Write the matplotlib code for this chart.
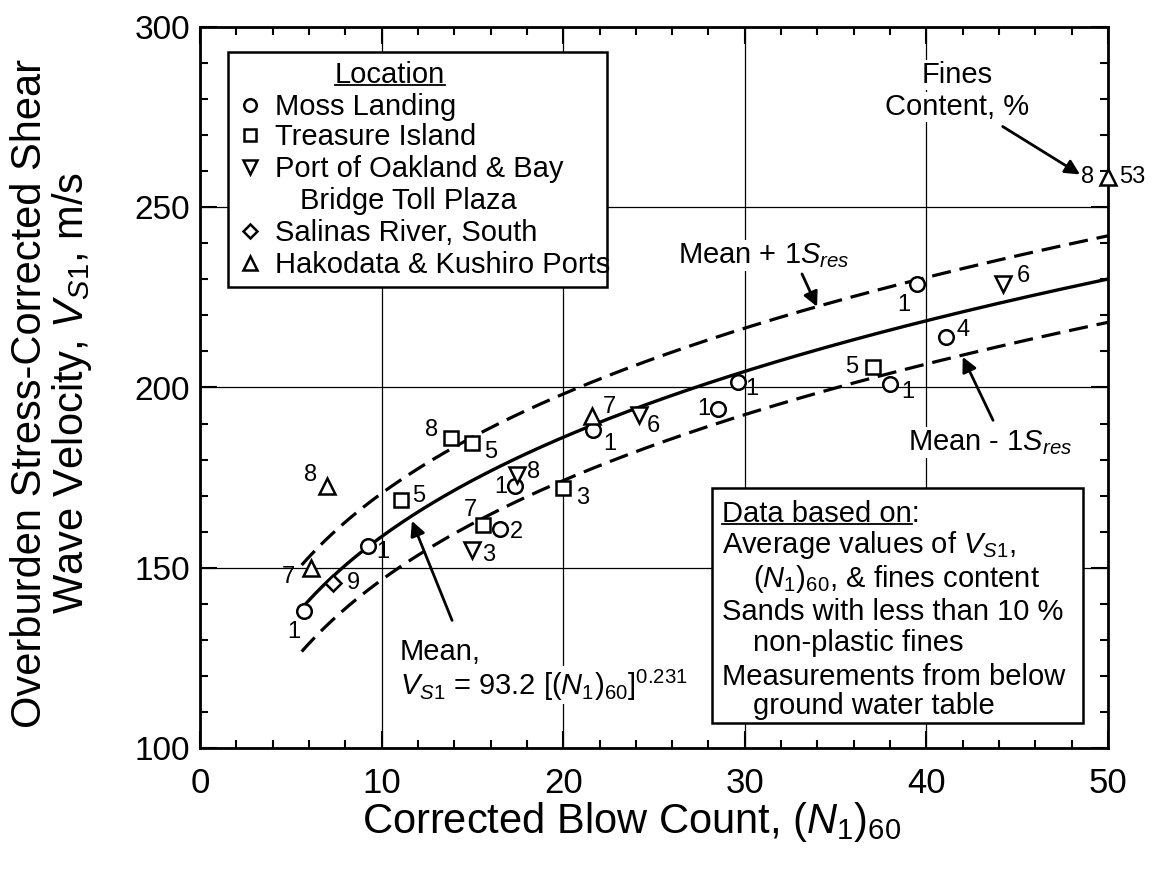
import matplotlib
matplotlib.use('Agg')
import matplotlib.pyplot as plt
import numpy as np
from matplotlib.patches import Rectangle
from matplotlib.lines import Line2D
from matplotlib.transforms import IdentityTransform

plt.rcParams['font.family'] = ['Liberation Sans', 'DejaVu Sans']
plt.rcParams['mathtext.fontset'] = 'custom'
plt.rcParams['mathtext.rm'] = 'Liberation Sans'
plt.rcParams['mathtext.it'] = 'Liberation Sans:italic'
plt.rcParams['mathtext.bf'] = 'Liberation Sans:bold'

# values: (N1)60, Vs1 in m/s, fines content in %
moss_n = [5.7, 9.25, 16.5, 17.35, 21.65, 28.5, 29.6, 38.0, 39.5, 41.1]
moss_vs = [138.0, 156.0, 160.8, 172.7, 188.1, 193.9, 201.4, 201.1, 228.7, 214.1]
moss_fc = ['1', '1', '2', '1', '1', '1', '1', '1', '1', '4']

ti_n = [11.07, 13.8, 15.0, 15.6, 20.0, 37.05]
ti_vs = [168.8, 185.9, 184.5, 161.9, 172.1, 205.8]
ti_fc = ['5', '8', '5', '7', '3', '5']

oak_n = [15.0, 17.45, 24.2, 44.2]
oak_vs = [155.0, 175.7, 192.3, 228.7]
oak_fc = ['3', '8', '6', '6']

sal_n = [7.3]
sal_vs = [145.9]
sal_fc = ['9']

hak_n = [6.1, 7.0, 21.6, 50.0]
hak_vs = [150.0, 172.6, 192.0, 258.3]
hak_fc = ['7', '8', '7', '8']
hak_extra_fc = '53'

# curve printed on the chart: Vs1 = 93.2 [(N1)60]^0.231, +/- 1 S_res
a_coef = 93.2
b_exp = 0.231
s_res = 12.0
n_start = 5.6
n_end = 50.0

# where the fines labels sit relative to each marker (points)
moss_off = [(-7, -15), (11, -4), (12, -2), (-10, -1), (12, -10), (-10, 0), (10, -5), (13, -6), (-10, -15), (12, 5)]
ti_off = [(13, 3), (-14, 6), (13, -6), (-9, 11), (14, -7), (-15, 0)]
oak_off = [(12, -4), (12, 2), (10, -8), (15, 6)]
sal_off = [(15, 0)]
hak_off = [(-16, -7), (-12, 8), (12, 7), (-15, 0)]

fig = plt.figure(figsize=(11.61, 8.72), dpi=100)
ax = fig.add_axes([200 / 1161, 1 - 748 / 872, 908 / 1161, 721 / 872])


def axf(px, py):
    # pixel position in the picture -> axes fraction
    return (px - 200) / 908, (748 - py) / 721


ax.set_xlim(0, 50)
ax.set_ylim(100, 300)
ax.set_xticks(np.arange(0, 51, 10))
ax.set_xticks(np.arange(0, 51, 2), minor=True)
ax.set_yticks(np.arange(100, 301, 50))
ax.set_yticks(np.arange(100, 301, 10), minor=True)
ax.tick_params(which='both', direction='in', top=True, right=True, width=1.5)
ax.tick_params(which='major', length=12)
ax.tick_params(which='minor', length=6)
ax.tick_params(axis='x', labelsize=25, pad=14)
ax.tick_params(axis='y', labelsize=24, pad=7)
for sp in ax.spines.values():
    sp.set_linewidth(2)
ax.grid(True, which='major', color='black', lw=0.9)

# regression curves
n_curve = np.linspace(n_start, n_end, 300)
vs_mean = a_coef * n_curve ** b_exp
ax.plot(n_curve, vs_mean, color='black', lw=2.4, zorder=3)
ax.plot(n_curve, vs_mean + s_res, color='black', lw=2.3, dashes=(6, 2.8), zorder=3)
ax.plot(n_curve, vs_mean - s_res, color='black', lw=2.3, dashes=(6, 2.8), zorder=3)

sites = [
    (moss_n, moss_vs, moss_fc, moss_off, 'o', 10.5),
    (ti_n, ti_vs, ti_fc, ti_off, 's', 10),
    (oak_n, oak_vs, oak_fc, oak_off, 'v', 11),
    (sal_n, sal_vs, sal_fc, sal_off, 'D', 8),
    (hak_n, hak_vs, hak_fc, hak_off, '^', 11),
]
for n, vs, fc, off, mk, ms in sites:
    ax.plot(n, vs, ls='none', marker=mk, ms=ms, mfc='white', mec='black', mew=1.8,
            zorder=4, clip_on=False)
    for x, y, t, o in zip(n, vs, fc, off):
        ax.annotate(t, (x, y), xytext=o, textcoords='offset points',
                    ha='center', va='center', fontsize=17, zorder=5)
ax.annotate(hak_extra_fc, (hak_n[-1], hak_vs[-1]), xytext=(8, 0), textcoords='offset points',
            ha='left', va='center', fontsize=17, zorder=5, annotation_clip=False)

# location legend drawn as a box
x0, y0 = axf(228, 287)
x1, y1 = axf(607, 52)
ax.add_patch(Rectangle((x0, y0), x1 - x0, y1 - y0, transform=ax.transAxes,
                       fc='white', ec='black', lw=1.8, zorder=6))
loc_title = ax.text(*axf(390, 83), 'Location', transform=ax.transAxes, ha='center',
                    va='baseline', fontsize=21, zorder=7)
leg_rows = [('o', 'Moss Landing', 115, 9), ('s', 'Treasure Island', 145, 9),
            ('v', 'Port of Oakland & Bay', 177, 10), ('D', 'Salinas River, South', 241, 7.5),
            ('^', 'Hakodata & Kushiro Ports', 273, 10)]
for mk, lab, base, ms in leg_rows:
    ax.plot(*axf(250, base - 10), marker=mk, ms=ms, mfc='white', mec='black', mew=1.8,
            transform=ax.transAxes, zorder=7, clip_on=False)
    ax.text(*axf(275, base), lab, transform=ax.transAxes, ha='left', va='baseline',
            fontsize=21, zorder=7)
ax.text(*axf(300, 209), 'Bridge Toll Plaza', transform=ax.transAxes, ha='left',
        va='baseline', fontsize=21, zorder=7)

# "data based on" box
x0, y0 = axf(712, 723)
x1, y1 = axf(1083, 488)
ax.add_patch(Rectangle((x0, y0), x1 - x0, y1 - y0, transform=ax.transAxes,
                       fc='white', ec='black', lw=1.8, zorder=6))
data_lines = [('Data based on:', 722, 522), (r'Average values of $\mathit{V_{S1}}$,', 722, 553),
              (r'$\mathit{(N_1)_{60}}$, & fines content', 753, 587),
              ('Sands with less than 10 %', 722, 620), ('non-plastic fines', 753, 651),
              ('Measurements from below', 722, 685), ('ground water table', 753, 714)]
data_texts = []
for txt, px, py in data_lines:
    data_texts.append(ax.text(*axf(px, py), txt, transform=ax.transAxes, ha='left',
                              va='baseline', fontsize=21, zorder=7))

wbox = dict(fc='white', ec='none', pad=1)
ax.text(*axf(957, 83), 'Fines', transform=ax.transAxes, ha='center', va='baseline',
        fontsize=21, bbox=wbox, zorder=5)
ax.text(*axf(957, 115), 'Content, %', transform=ax.transAxes, ha='center', va='baseline',
        fontsize=21, bbox=wbox, zorder=5)
ax.text(*axf(678, 263), r'Mean + 1$\mathit{S_{res}}$', transform=ax.transAxes, ha='left',
        va='baseline', fontsize=21, bbox=wbox, zorder=5)
ax.text(*axf(908, 450), r'Mean - 1$\mathit{S_{res}}$', transform=ax.transAxes, ha='left',
        va='baseline', fontsize=21, bbox=wbox, zorder=5)
ax.text(*axf(400, 660), 'Mean,', transform=ax.transAxes, ha='left', va='baseline',
        fontsize=21, bbox=wbox, zorder=5)
ax.text(*axf(400, 695), r'$\mathit{V_{S1}}$ = 93.2 [$\mathit{(N_1)_{60}}$]$^{0.231}$',
        transform=ax.transAxes, ha='left', va='baseline', fontsize=21, bbox=wbox, zorder=5)

arrow = dict(arrowstyle='-|>', color='black', lw=2, mutation_scale=22, shrinkA=0, shrinkB=0)
ax.annotate('', xy=(48.46, 259.1), xytext=(44.2, 272.4), arrowprops=arrow, zorder=5)
ax.annotate('', xy=(33.98, 222.4), xytext=(33.15, 231.5), arrowprops=arrow, zorder=5)
ax.annotate('', xy=(42.0, 208.5), xytext=(43.67, 190.9), arrowprops=arrow, zorder=5)
ax.annotate('', xy=(11.67, 163.0), xytext=(13.88, 135.4), arrowprops=arrow, zorder=5)

fig.text(52 / 1161, 1 - 393 / 872,
         'Overburden Stress-Corrected Shear\nWave Velocity, $\\mathit{V_{S1}}$, m/s',
         rotation=90, ha='center', va='center', multialignment='center',
         fontsize=30, linespacing=1.0)
fig.text(632 / 1161, 1 - 822 / 872, r'Corrected Blow Count, $\mathit{(N_1)_{60}}$',
         ha='center', va='center', fontsize=30)

# underlines for the two box headings
fig.canvas.draw()
rend = fig.canvas.get_renderer()
for t, trim in ((loc_title, 0), (data_texts[0], 8)):
    bb = t.get_window_extent(rend)
    yl = bb.y0 + 4
    fig.add_artist(Line2D([bb.x0, bb.x1 - trim], [yl, yl], transform=IdentityTransform(),
                          color='black', lw=1.3, zorder=8))

fig.savefig('out.png', dpi=100)
